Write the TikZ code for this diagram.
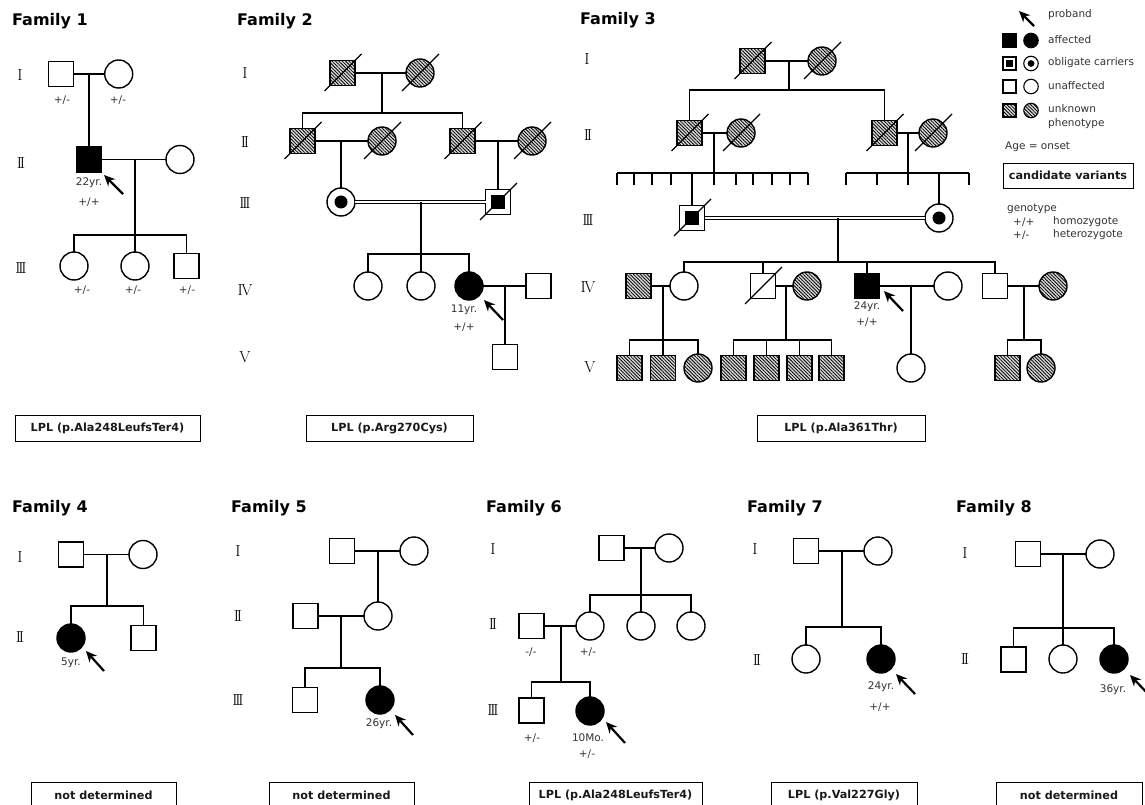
\documentclass[tikz,border=0pt]{standalone}
\usepackage{fontspec}
\newfontfamily\dejavu{DejaVu Sans}
\usetikzlibrary{arrows.meta,patterns.meta}
\newcommand\rI{I}
\newcommand\rII{I\kern-2.3pt I}
\newcommand\rIII{I\kern-2.3pt I\kern-2.3pt I}
\newcommand\rIV{I\kern-1.5pt V}
\newcommand\rV{V}
\newcommand\deadmark[1]{\draw[dead] (#1.center) ++(-18,18) -- ++(37,-37);}
\tikzset{
  sym/.style={draw, line width=1.4pt, inner sep=0pt, outer sep=0pt},
  male/.style={sym, rectangle, minimum size=25pt},
  female/.style={sym, circle, minimum size=28pt},
  aff/.style={fill=black},
  unk/.style={preaction={fill=black!15}, pattern={Lines[angle=-45,distance=2.4pt,line width=0.8pt]}},
  carM/.style={male, path picture={\fill[shift={(path picture bounding box.center)}] (-7,-7) rectangle (7,7);}},
  carF/.style={female, path picture={\fill (path picture bounding box.center) circle (6.5pt);}},
  lmale/.style={sym, line width=1.1pt, rectangle, minimum size=13pt},
  lfemale/.style={sym, line width=1.1pt, circle, minimum size=14.5pt},
  lcarM/.style={lmale, path picture={\fill[shift={(path picture bounding box.center)}] (-3.2,-3.2) rectangle (3.2,3.2);}},
  lcarF/.style={lfemale, path picture={\fill (path picture bounding box.center) circle (3.4pt);}},
  conn/.style={line width=1.2pt},
  cons/.style={line width=0.9pt, double, double distance=2.2pt},
  dead/.style={line width=1.1pt},
  proband/.style={line width=2.2pt, -{Stealth[length=11pt,width=10pt]}},
  lab/.style={font=\dejavu\fontsize{10.5}{12}\selectfont, inner sep=0pt, text=black!80},
  leg/.style={lab, anchor=west},
  gen/.style={font=\fontsize{16}{16}\selectfont, inner sep=0pt},
  title/.style={font=\dejavu\bfseries\fontsize{16}{18}\selectfont, anchor=base west, inner sep=0pt},
  vbox/.style={draw, line width=0.8pt, font=\dejavu\bfseries\fontsize{11.2}{12}\selectfont, minimum height=26pt, inner sep=0pt, text=black!90}
}
\begin{document}
\begin{tikzpicture}[x=1pt,y=-1pt]
\useasboundingbox (0,0) rectangle (1145,805);
\fill[white] (0,0) rectangle (1145,805);

% ================= Family 1 =================
\node[title] (t1) at (12,26) {Family 1};
\node[gen] (f1g1) at (20,75) {\rI};
\node[gen] (f1g2) at (21,163) {\rII};
\node[gen] (f1g3) at (21,268) {\rIII};
\node[male] (f1a) at (61,74) {};
\node[female] (f1b) at (118.7,74) {};
\node[male,aff] (f1c) at (89,159.5) {};
\node[female] (f1d) at (180,159.5) {};
\node[female] (f1e) at (74,266) {};
\node[female] (f1f) at (135,266) {};
\node[male] (f1h) at (186.5,266) {};
\coordinate (f1m) at (89,74);
\coordinate (f1n) at (135,159.5);
\coordinate (f1j) at (135,235);
\draw[conn] (f1a) -- (f1b);
\draw[conn] (f1m) -- (f1c.north);
\draw[conn] (f1c) -- (f1d);
\draw[conn] (f1n) -- (f1f.north);
\draw[conn] (f1e.north) |- (f1j) -| (f1h.north);
\node[lab] (f1l1) at (62,100) {+/-};
\node[lab] (f1l2) at (118,100) {+/-};
\node[lab] (f1l3) at (89,183) {22yr.};
\node[lab] (f1l4) at (89,202) {+/+};
\node[lab] (f1l5) at (82,290) {+/-};
\node[lab] (f1l6) at (133,290) {+/-};
\node[lab] (f1l7) at (187,290) {+/-};
\coordinate (f1p1) at (123,194); \coordinate (f1p2) at (104,175);
\draw[proband] (f1p1) -- (f1p2);
\node[vbox, minimum width=185pt] (f1box) at (107.5,428.5) {LPL (p.Ala248LeufsTer4)};

% ================= Family 2 =================
\node[title] (t2) at (237,26) {Family 2};
\node[gen] (f2g1) at (245,73) {\rI};
\node[gen] (f2g2) at (245,142) {\rII};
\node[gen] (f2g3) at (245,203) {\rIII};
\node[gen] (f2g4) at (245,290) {\rIV};
\node[gen] (f2g5) at (245,357) {\rV};
\node[male,unk] (f2a) at (342.5,73) {};
\node[female,unk] (f2b) at (420,73) {};
\node[male,unk] (f2c) at (302.5,141) {};
\node[female,unk] (f2d) at (382,141) {};
\node[male,unk] (f2e) at (462.5,141) {};
\node[female,unk] (f2f) at (532,141) {};
\node[carF] (f2g) at (341,202) {};
\node[carM] (f2h) at (498,202) {};
\node[female] (f2i) at (368,286) {};
\node[female] (f2k) at (421,286) {};
\node[female,aff] (f2l) at (469,286) {};
\node[male] (f2o) at (538.5,286) {};
\node[male] (f2p) at (505,357) {};
\foreach \n in {f2a,f2b,f2c,f2d,f2e,f2f,f2h} {\deadmark{\n}}
\coordinate (f2m) at (382,73);
\coordinate (f2j1) at (382,113);
\coordinate (f2n1) at (341,141);
\coordinate (f2n2) at (498,141);
\coordinate (f2n3) at (421,202);
\coordinate (f2j2) at (421,254);
\coordinate (f2n4) at (505,286);
\draw[conn] (f2a) -- (f2b);
\draw[conn] (f2m) -- (f2j1);
\draw[conn] (f2c.north) |- (f2j1) -| (f2e.north);
\draw[conn] (f2c) -- (f2d);
\draw[conn] (f2e) -- (f2f);
\draw[conn] (f2n1) -- (f2g.north);
\draw[conn] (f2n2) -- (f2h.north);
\draw[cons] (f2g) -- (f2h);
\draw[conn] (f2n3) -- (f2k.north);
\draw[conn] (f2i.north) |- (f2j2) -| (f2l.north);
\draw[conn] (f2l) -- (f2o);
\draw[conn] (f2n4) -- (f2p.north);
\node[lab] (f2l1) at (464,310) {11yr.};
\node[lab] (f2l2) at (464,327) {+/+};
\coordinate (f2p1) at (503,320); \coordinate (f2p2) at (484,300);
\draw[proband] (f2p1) -- (f2p2);
\node[vbox, minimum width=167pt] (f2box) at (389.5,428.5) {LPL (p.Arg270Cys)};

% ================= Family 3 =================
\node[title] (t3) at (580,25) {Family 3};
\node[gen] (f3g1) at (587,59) {\rI};
\node[gen] (f3g2) at (588,135) {\rII};
\node[gen] (f3g3) at (588,220) {\rIII};
\node[gen] (f3g4) at (588,287) {\rIV};
\node[gen] (f3g5) at (590,367) {\rV};
\node[male,unk] (f3a) at (752.5,61) {};
\node[female,unk] (f3b) at (822,61) {};
\node[male,unk] (f3c) at (689.5,133) {};
\node[female,unk] (f3d) at (741,133) {};
\node[male,unk] (f3e) at (884.5,133) {};
\node[female,unk] (f3f) at (933,133) {};
\node[carM] (f3g) at (692,218) {};
\node[carF] (f3h) at (939,218) {};
\node[male,unk] (f3i) at (638.5,286) {};
\node[female] (f3k) at (684,286) {};
\node[male] (f3o) at (763,286) {};
\node[female,unk] (f3p) at (807,286) {};
\node[male,aff] (f3q) at (867,286) {};
\node[female] (f3r) at (948,286) {};
\node[male] (f3s) at (995,286) {};
\node[female,unk] (f3t) at (1053,286) {};
\node[male,unk] (f3u) at (629.5,368) {};
\node[male,unk] (f3v) at (663,368) {};
\node[female,unk] (f3w) at (698,368) {};
\node[male,unk] (f3x1) at (733.5,368) {};
\node[male,unk] (f3x2) at (766.5,368) {};
\node[male,unk] (f3x3) at (799.5,368) {};
\node[male,unk] (f3x4) at (831.5,368) {};
\node[female] (f3y) at (911,368) {};
\node[male,unk] (f3z1) at (1007.5,368) {};
\node[female,unk] (f3z2) at (1041,368) {};
\foreach \n in {f3a,f3b,f3c,f3d,f3e,f3f,f3g,f3o} {\deadmark{\n}}
\coordinate (f3m) at (789,61);
\coordinate (f3j1) at (789,90);
\coordinate (f3n1) at (714,133);
\coordinate (f3n2) at (908,133);
\coordinate (f3s1) at (617,173);
\coordinate (f3s2) at (808,173);
\coordinate (f3s3) at (846,173);
\coordinate (f3s4) at (969,173);
\coordinate (f3n3) at (838,218);
\coordinate (f3j2) at (838,262);
\coordinate (f3n4) at (663,286);
\coordinate (f3n5) at (786,286);
\coordinate (f3n6) at (911,286);
\coordinate (f3n7) at (1024,286);
\coordinate (f3j3) at (663,340);
\coordinate (f3j4) at (786,340);
\coordinate (f3j5) at (1024,340);
\draw[conn] (f3a) -- (f3b);
\draw[conn] (f3m) -- (f3j1);
\draw[conn] (f3c.north) |- (f3j1) -| (f3e.north);
\draw[conn] (f3c) -- (f3d);
\draw[conn] (f3e) -- (f3f);
\draw[conn] (f3n1) -- (f3n1 |- f3s1);
\draw[conn] (f3n2) -- (f3n2 |- f3s3);
\draw[conn] (f3s1) -- (f3s2);
\draw[conn] (f3s3) -- (f3s4);
\foreach \x in {617,634,652,671,714,736,753,772,790,808,846,877,908,969} {\draw[conn] (\x,173) -- (\x,185);}
\draw[conn] (f3g.north |- f3s1) -- (f3g.north);
\draw[conn] (f3h.north |- f3s3) -- (f3h.north);
\draw[cons] (f3g) -- (f3h);
\draw[conn] (f3n3) -- (f3j2);
\draw[conn] (f3k.north) |- (f3j2) -| (f3s.north);
\draw[conn] (f3o.north) -- (f3o.north |- f3j2);
\draw[conn] (f3q.north) -- (f3q.north |- f3j2);
\draw[conn] (f3i) -- (f3k);
\draw[conn] (f3o) -- (f3p);
\draw[conn] (f3q) -- (f3r);
\draw[conn] (f3s) -- (f3t);
\draw[conn] (f3n4) -- (f3v.north);
\draw[conn] (f3u.north) |- (f3j3) -| (f3w.north);
\draw[conn] (f3n5) -- (f3j4);
\draw[conn] (f3x1.north) |- (f3j4) -| (f3x4.north);
\draw[conn] (f3x2.north) -- (f3x2.north |- f3j4);
\draw[conn] (f3x3.north) -- (f3x3.north |- f3j4);
\draw[conn] (f3n6) -- (f3y.north);
\draw[conn] (f3n7) -- (f3j5);
\draw[conn] (f3z1.north) |- (f3j5) -| (f3z2.north);
\node[lab] (f3l1) at (867,307) {24yr.};
\node[lab] (f3l2) at (867,322) {+/+};
\coordinate (f3p1) at (903,311); \coordinate (f3p2) at (884,291);
\draw[proband] (f3p1) -- (f3p2);
\node[vbox, minimum width=168pt] (f3box) at (841,428) {LPL (p.Ala361Thr)};

% ================= Legend =================
\coordinate (lgp1) at (1034,26); \coordinate (lgp2) at (1019,11);
\draw[proband] (lgp1) -- (lgp2);
\node[leg] (lgt1) at (1048,15) {proband};
\node[lmale,aff] (lga) at (1009.5,40.5) {};
\node[lfemale,aff] (lgb) at (1031,40.5) {};
\node[leg] (lgt2) at (1048,40) {affected};
\node[lcarM] (lgc) at (1009.5,63.5) {};
\node[lcarF] (lgd) at (1031,63.5) {};
\node[leg] (lgt3) at (1048,63) {obligate carriers};
\node[lmale] (lge) at (1009.5,86.5) {};
\node[lfemale] (lgf) at (1031,86.5) {};
\node[leg] (lgt4) at (1048,86) {unaffected};
\node[lmale,unk] (lgg) at (1009.5,110.5) {};
\node[lfemale,unk] (lgh) at (1031,110.5) {};
\node[leg] (lgt5) at (1048,109) {unknown};
\node[leg] (lgt6) at (1048,124) {phenotype};
\node[leg] (lgt7) at (1005,147) {Age = onset};
\node[vbox, minimum width=130pt, minimum height=25pt] (lgbox) at (1068,175.5) {candidate variants};
\node[leg] (lgt8) at (1007,209) {genotype};
\node[leg] (lgt9) at (1013,222) {+/+};
\node[leg] (lgt10) at (1053,222) {homozygote};
\node[leg] (lgt11) at (1013,235) {+/-};
\node[leg] (lgt12) at (1053,235) {heterozygote};

% ================= Family 4 =================
\node[title] (t4) at (12,512) {Family 4};
\node[gen] (f4g1) at (20,557) {\rI};
\node[gen] (f4g2) at (20,637) {\rII};
\node[male] (f4a) at (71,554.5) {};
\node[female] (f4b) at (143,554.5) {};
\node[female,aff] (f4c) at (71,638) {};
\node[male] (f4d) at (143.5,638) {};
\coordinate (f4m) at (107,554.5);
\coordinate (f4j) at (107,606);
\draw[conn] (f4a) -- (f4b);
\draw[conn] (f4m) -- (f4j);
\draw[conn] (f4c.north) |- (f4j) -| (f4d.north);
\node[lab] (f4l1) at (71,663) {5yr.};
\coordinate (f4p1) at (104,671); \coordinate (f4p2) at (86,651);
\draw[proband] (f4p1) -- (f4p2);
\node[vbox, minimum width=145pt] (f4box) at (103.5,795) {not determined};

% ================= Family 5 =================
\node[title] (t5) at (231,512) {Family 5};
\node[gen] (f5g1) at (238,551) {\rI};
\node[gen] (f5g2) at (238,616) {\rII};
\node[gen] (f5g3) at (238,700) {\rIII};
\node[male] (f5a) at (342,551) {};
\node[female] (f5b) at (414,551) {};
\node[male] (f5c) at (305.5,616) {};
\node[female] (f5d) at (378,616) {};
\node[male] (f5e) at (305,700) {};
\node[female,aff] (f5f) at (380,700) {};
\coordinate (f5m) at (378,551);
\coordinate (f5n) at (341,616);
\coordinate (f5j) at (341,668);
\draw[conn] (f5a) -- (f5b);
\draw[conn] (f5m) -- (f5d.north);
\draw[conn] (f5c) -- (f5d);
\draw[conn] (f5n) -- (f5j);
\draw[conn] (f5e.north) |- (f5j) -| (f5f.north);
\node[lab] (f5l1) at (379,724) {26yr.};
\coordinate (f5p1) at (413,735); \coordinate (f5p2) at (395,715);
\draw[proband] (f5p1) -- (f5p2);
\node[vbox, minimum width=145pt] (f5box) at (341.5,795) {not determined};

% ================= Family 6 =================
\node[title] (t6) at (486,512) {Family 6};
\node[gen] (f6g1) at (493,549) {\rI};
\node[gen] (f6g2) at (493,624) {\rII};
\node[gen] (f6g3) at (493,710) {\rIII};
\node[male] (f6a) at (611.5,548) {};
\node[female] (f6b) at (669,548) {};
\node[male] (f6c) at (531.5,626) {};
\node[female] (f6d) at (590,626) {};
\node[female] (f6e) at (641,626) {};
\node[female] (f6f) at (691,626) {};
\node[male] (f6g) at (531.5,710.5) {};
\node[female,aff] (f6h) at (590,711) {};
\coordinate (f6m) at (641,548);
\coordinate (f6j) at (641,595);
\coordinate (f6n) at (561,626);
\coordinate (f6j2) at (561,682);
\draw[conn] (f6a) -- (f6b);
\draw[conn] (f6m) -- (f6e.north);
\draw[conn] (f6d.north) |- (f6j) -| (f6f.north);
\draw[conn] (f6c) -- (f6d);
\draw[conn] (f6n) -- (f6j2);
\draw[conn] (f6g.north) |- (f6j2) -| (f6h.north);
\node[lab] (f6l1) at (531,652) {-/-};
\node[lab] (f6l2) at (588,652) {+/-};
\node[lab] (f6l3) at (532,738) {+/-};
\node[lab] (f6l4) at (588,738) {10Mo.};
\node[lab] (f6l5) at (587,754) {+/-};
\coordinate (f6p1) at (625,743); \coordinate (f6p2) at (606,722);
\draw[proband] (f6p1) -- (f6p2);
\node[vbox, minimum width=173pt] (f6box) at (615.5,795) {LPL (p.Ala248LeufsTer4)};

% ================= Family 7 =================
\node[title] (t7) at (747,512) {Family 7};
\node[gen] (f7g1) at (755,549) {\rI};
\node[gen] (f7g2) at (757,660) {\rII};
\node[male] (f7a) at (806,551) {};
\node[female] (f7b) at (878,551) {};
\node[female] (f7c) at (806,659) {};
\node[female,aff] (f7d) at (881,659) {};
\coordinate (f7m) at (842,551);
\coordinate (f7j) at (842,627);
\draw[conn] (f7a) -- (f7b);
\draw[conn] (f7m) -- (f7j);
\draw[conn] (f7c.north) |- (f7j) -| (f7d.north);
\node[lab] (f7l1) at (881,687) {24yr.};
\node[lab] (f7l2) at (880,707) {+/+};
\coordinate (f7p1) at (915,694); \coordinate (f7p2) at (896,674);
\draw[proband] (f7p1) -- (f7p2);
\node[vbox, minimum width=146pt] (f7box) at (844,795) {LPL (p.Val227Gly)};

% ================= Family 8 =================
\node[title] (t8) at (956,512) {Family 8};
\node[gen] (f8g1) at (965,553) {\rI};
\node[gen] (f8g2) at (965,659) {\rII};
\node[male] (f8a) at (1028,554) {};
\node[female] (f8b) at (1100,554) {};
\node[male] (f8c) at (1013.5,659.5) {};
\node[female] (f8d) at (1063,659) {};
\node[female,aff] (f8e) at (1114,659) {};
\coordinate (f8m) at (1063,554);
\coordinate (f8j) at (1063,628);
\draw[conn] (f8a) -- (f8b);
\draw[conn] (f8m) -- (f8d.north);
\draw[conn] (f8c.north) |- (f8j) -| (f8e.north);
\node[lab] (f8l1) at (1113,690) {36yr.};
\coordinate (f8p1) at (1150,696); \coordinate (f8p2) at (1130,675);
\draw[proband] (f8p1) -- (f8p2);
\node[vbox, minimum width=146pt] (f8box) at (1069,795) {not determined};
\end{tikzpicture}
\end{document}
